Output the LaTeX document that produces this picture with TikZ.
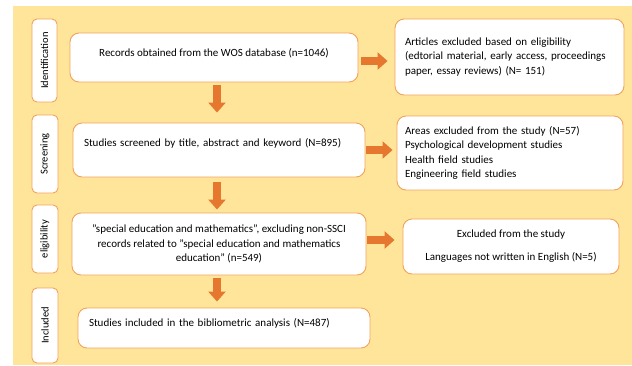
\documentclass[tikz,border=0pt]{standalone}
\usepackage{fontspec}
\setmainfont{Carlito}
\usetikzlibrary{arrows.meta}
\definecolor{panel}{RGB}{255,229,153}
\definecolor{edge}{RGB}{241,162,92}
\definecolor{arrowfill}{RGB}{229,120,46}
\tikzset{
  phase/.style={draw=edge, fill=white, line width=.9pt, rounded corners=5pt,
                rotate=90, inner sep=0pt, font=\fontsize{10.5}{12}\selectfont},
  stage/.style={draw=edge, fill=white, line width=.9pt, rounded corners=9pt,
                inner sep=0pt, font=\fontsize{11}{14.5}\selectfont}
}
\tikzset{
  >={Triangle[width=17pt,length=10pt]},
  push/.style={->, arrowfill, line width=7.5pt},
}
\begin{document}
\begin{tikzpicture}[x=1pt, y=-1pt]

\useasboundingbox (0,0) rectangle (632,365);
\fill[white] (0,0) rectangle (632,365);
\fill[panel] (13,6) rectangle (632,365);

\node[phase, minimum width=83, minimum height=25](ident) at (44.5,60.5) {Identification};
\node[phase, minimum width=78, minimum height=26](screen) at (45,154) {Screening};
\node[phase, minimum width=68, minimum height=26](elig) at (45,239) {eligibility};
\node[phase, minimum width=75, minimum height=26](incl) at (45,325.5) {Included};

\node[stage, minimum width=288, text height=23pt, text depth=26pt](records) at (214,57.5)
  {Records obtained from the WOS database (n=1046)};
\node[stage, text width=270pt, inner xsep=11pt, text height=23pt, text depth=31pt, align=left](screened) at (219,150)
  {Studies screened by title, abstract and keyword (N=895)};
\node[stage, minimum width=294, minimum height=62, align=center](special) at (219,244)
  {"special education and mathematics", excluding non-SSCI\\
   records related to "special education and mathematics\\
   education" (n=549)};
\node[stage, text width=270pt, inner xsep=11pt, text height=18pt, text depth=22pt, align=left](included) at (224,328)
  {Studies included in the bibliometric analysis (N=487)};

\node[stage, text width=209pt, inner xsep=10pt, minimum height=76, align=left](articles) at (509.5,57)
  {Articles excluded based on eligibility\\
   (edtorial material, early access, proceedings\\
   paper, essay reviews) (N= 151)};
\node[stage, text width=210pt, inner xsep=8pt, minimum height=74, align=left](areas) at (510,153)
  {Areas excluded from the study (N=57)\\
   Psychological development studies\\
   Health field studies\\
   Engineering field studies};
\node[stage, minimum width=216, minimum height=55, align=center](excluded) at (511,246.5)
  {Excluded from the study\\[8.5pt]
   Languages not written in English (N=5)};

\draw[push, shorten <=3pt, shorten >=7pt] ([yshift=-3.5pt]records.east) -- ([yshift=-3.5pt]records.east -| articles.west);
\draw[push, shorten <=1pt, shorten >=4pt] (screened.east) -- (screened.east -| areas.west);
\draw[push, shorten <=1pt, shorten >=8pt] ([yshift=4pt]special.east) -- ([yshift=4pt]special.east -| excluded.west);

\draw[push, shorten <=3pt, shorten >=10pt] ([xshift=3pt]records.south) -- ([xshift=3pt]records.south |- screened.north);
\draw[push, shorten <=5pt, shorten >=3pt] ([xshift=-2pt]screened.south) -- ([xshift=-2pt]screened.south |- special.north);
\draw[push, shorten <=3pt, shorten >=6pt] ([xshift=-2pt]special.south) -- ([xshift=-2pt]special.south |- included.north);

\end{tikzpicture}
\end{document}
